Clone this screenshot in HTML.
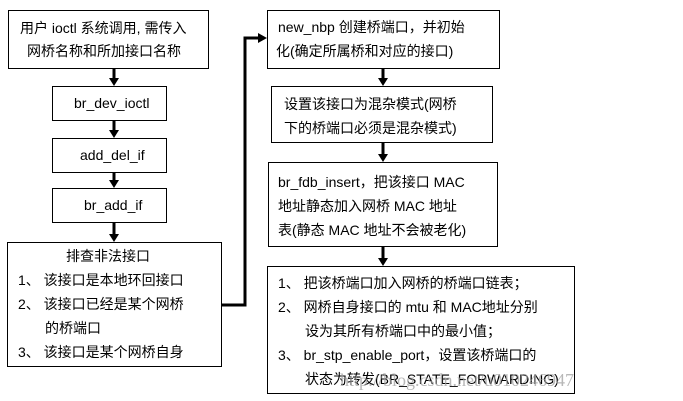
<!DOCTYPE html>
<html><head><meta charset="utf-8"><style>
body{margin:0;width:683px;height:401px;background:#fff;position:relative;overflow:hidden;font-family:"Liberation Sans","Noto Sans CJK SC",sans-serif;font-size:14px;color:#000}
.b{position:absolute;border:1px solid #000;box-sizing:border-box;background:#fff}
.t{position:absolute;white-space:nowrap;line-height:24px}
</style></head><body>
<svg width="683" height="401" style="position:absolute;left:0;top:0">
<g stroke="#000" stroke-width="3" fill="none">
<line x1="114" y1="68" x2="114" y2="80"/>
<line x1="114" y1="120" x2="114" y2="132"/>
<line x1="114" y1="172" x2="114" y2="182"/>
<line x1="114" y1="222" x2="114" y2="236"/>
<polyline points="221,305 245,305 245,38 258,38"/>
<line x1="383" y1="68" x2="383" y2="80"/>
<line x1="383" y1="142" x2="383" y2="156"/>
<line x1="383" y1="246" x2="383" y2="260"/>
</g>
<g fill="#000">
<polygon points="109,78 119,78 114,86"/>
<polygon points="109,130 119,130 114,138"/>
<polygon points="109,180 119,180 114,188"/>
<polygon points="109,234 119,234 114,242"/>
<polygon points="258,33 267,38 258,43"/>
<polygon points="378,78 388,78 383,86"/>
<polygon points="378,154 388,154 383,162"/>
<polygon points="378,258 388,258 383,266"/>
</g>
</svg>
<div class="b" style="left:8px;top:10px;width:201px;height:59px"></div>
<div class="t" style="left:20px;top:16px">用户 ioctl 系统调用, 需传入</div>
<div class="t" style="left:27px;top:39px">网桥名称和所加接口名称</div>
<div class="b" style="left:52px;top:86px;width:115px;height:35px"></div>
<div class="t" style="left:74px;top:91px">br_dev_ioctl</div>
<div class="b" style="left:52px;top:138px;width:115px;height:35px"></div>
<div class="t" style="left:80px;top:143px">add_del_if</div>
<div class="b" style="left:52px;top:188px;width:115px;height:35px"></div>
<div class="t" style="left:84px;top:193px">br_add_if</div>
<div class="b" style="left:7px;top:242px;width:215px;height:125px"></div>
<div class="t" style="left:66px;top:244px">排查非法接口</div>
<div class="t" style="left:18px;top:268px">1、 该接口是本地环回接口</div>
<div class="t" style="left:18px;top:292px">2、 该接口已经是某个网桥</div>
<div class="t" style="left:45px;top:316px">的桥端口</div>
<div class="t" style="left:18px;top:340px">3、 该接口是某个网桥自身</div>
<div class="b" style="left:267px;top:10px;width:233px;height:59px"></div>
<div class="t" style="left:278px;top:15px">new_nbp 创建桥端口，并初始</div>
<div class="t" style="left:276px;top:39px">化(确定所属桥和对应的接口)</div>
<div class="b" style="left:271px;top:86px;width:222px;height:57px"></div>
<div class="t" style="left:284px;top:92px">设置该接口为混杂模式(网桥</div>
<div class="t" style="left:284px;top:116px">下的桥端口必须是混杂模式)</div>
<div class="b" style="left:268px;top:162px;width:230px;height:85px"></div>
<div class="t" style="left:278px;top:170px">br_fdb_insert，把该接口 MAC</div>
<div class="t" style="left:278px;top:194px">地址静态加入网桥 MAC 地址</div>
<div class="t" style="left:278px;top:218px">表(静态 MAC 地址不会被老化)</div>
<div class="b" style="left:267px;top:266px;width:308px;height:128px"></div>
<div class="t" style="left:278px;top:271px">1、 把该桥端口加入网桥的桥端口链表；</div>
<div class="t" style="left:278px;top:295px">2、 网桥自身接口的 mtu 和 MAC地址分别</div>
<div class="t" style="left:305px;top:319px">设为其所有桥端口中的最小值；</div>
<div class="t" style="left:278px;top:343px">3、 br_stp_enable_port，设置该桥端口的</div>
<div class="t" style="left:305px;top:367px">状态为转发(BR_STATE_FORWARDING)</div>
<div class="t" style="left:340px;top:368px;font-family:'Liberation Serif',serif;font-size:18px;color:rgba(160,160,160,0.75)">http://blog.csdn.net/u010246947</div>
</body></html>
